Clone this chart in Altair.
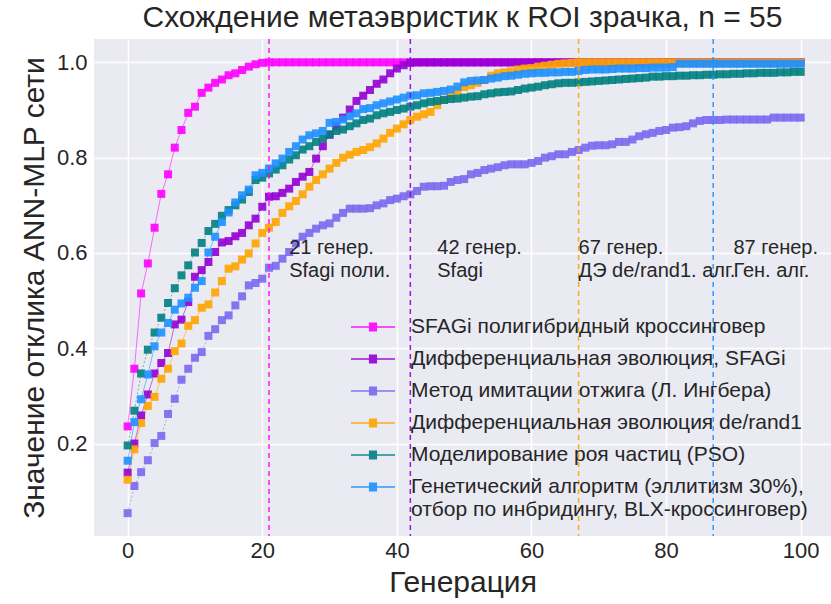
import altair as alt
import pandas as pd

generations = list(range(0, 101))

series_names = [
    "SFAGi полигибридный кроссинговер",
    "Дифференциальная эволюция, SFAGi",
    "Метод имитации отжига (Л. Ингбера)",
    "Дифференциальная эволюция de/rand1",
    "Моделирование роя частиц (PSO)",
    "Генетический алгоритм (эллитизм 30%),|отбор по инбридингу, BLX-кроссинговер)",
]
series_colors = ["#FF00FF", "#9400D3", "#7B68EE", "#FFA500", "#008080", "#1E90FF"]
dotted_series = [series_names[2], series_names[4]]

sfagi_poly = [
    0.236, 0.357, 0.515, 0.578, 0.653, 0.724, 0.765, 0.821, 0.858, 0.894,
    0.907, 0.936, 0.947, 0.957, 0.964, 0.973, 0.977, 0.984, 0.991, 0.996,
    0.999, 1.0, 1.0, 1.0, 1.0, 1.0, 1.0, 1.0, 1.0, 1.0,
    1.0, 1.0, 1.0, 1.0, 1.0, 1.0, 1.0, 1.0, 1.0, 1.0,
    1.0, 1.0, 1.0, 1.0, 1.0, 1.0, 1.0, 1.0, 1.0, 1.0,
    1.0, 1.0, 1.0, 1.0, 1.0, 1.0, 1.0, 1.0, 1.0, 1.0,
    1.0, 1.0, 1.0, 1.0, 1.0, 1.0, 1.0, 1.0, 1.0, 1.0,
    1.0, 1.0, 1.0, 1.0, 1.0, 1.0, 1.0, 1.0, 1.0, 1.0,
    1.0, 1.0, 1.0, 1.0, 1.0, 1.0, 1.0, 1.0, 1.0, 1.0,
    1.0, 1.0, 1.0, 1.0, 1.0, 1.0, 1.0, 1.0, 1.0, 1.0,
    1.0,
]
de_sfagi = [
    0.139, 0.200, 0.259, 0.303, 0.347, 0.369, 0.390, 0.450, 0.460, 0.497,
    0.550, 0.564, 0.581, 0.602, 0.622, 0.625, 0.635, 0.642, 0.658, 0.672,
    0.697, 0.718, 0.719, 0.726, 0.735, 0.749, 0.760, 0.770, 0.798, 0.824,
    0.848, 0.866, 0.884, 0.901, 0.919, 0.930, 0.942, 0.955, 0.964, 0.977,
    0.987, 0.994, 0.999, 1.0, 1.0, 1.0, 1.0, 1.0, 1.0, 1.0,
    1.0, 1.0, 1.0, 1.0, 1.0, 1.0, 1.0, 1.0, 1.0, 1.0,
    1.0, 1.0, 1.0, 1.0, 1.0, 1.0, 1.0, 1.0, 1.0, 1.0,
    1.0, 1.0, 1.0, 1.0, 1.0, 1.0, 1.0, 1.0, 1.0, 1.0,
    1.0, 1.0, 1.0, 1.0, 1.0, 1.0, 1.0, 1.0, 1.0, 1.0,
    1.0, 1.0, 1.0, 1.0, 1.0, 1.0, 1.0, 1.0, 1.0, 1.0,
    1.0,
]
annealing = [
    0.054, 0.111, 0.140, 0.165, 0.201, 0.216, 0.262, 0.294, 0.334, 0.357,
    0.380, 0.392, 0.426, 0.440, 0.459, 0.469, 0.490, 0.509, 0.532, 0.537,
    0.546, 0.569, 0.573, 0.588, 0.602, 0.620, 0.634, 0.642, 0.651, 0.658,
    0.662, 0.674, 0.684, 0.693, 0.693, 0.693, 0.694, 0.700, 0.704, 0.711,
    0.714, 0.719, 0.723, 0.730, 0.739, 0.740, 0.740, 0.741, 0.749, 0.753,
    0.755, 0.765, 0.768, 0.774, 0.777, 0.780, 0.784, 0.786, 0.786, 0.786,
    0.789, 0.793, 0.800, 0.803, 0.807, 0.807, 0.812, 0.816, 0.821, 0.825,
    0.826, 0.826, 0.828, 0.833, 0.833, 0.838, 0.845, 0.849, 0.852, 0.856,
    0.858, 0.863, 0.864, 0.866, 0.872, 0.877, 0.879, 0.879, 0.879, 0.880,
    0.880, 0.880, 0.880, 0.880, 0.880, 0.880, 0.884, 0.884, 0.884, 0.884,
    0.884,
]
de_rand1 = [
    0.124, 0.188, 0.243, 0.279, 0.298, 0.336, 0.357, 0.394, 0.410, 0.447,
    0.459, 0.485, 0.492, 0.517, 0.541, 0.567, 0.572, 0.586, 0.599, 0.620,
    0.642, 0.653, 0.665, 0.684, 0.698, 0.709, 0.723, 0.739, 0.753, 0.765,
    0.777, 0.789, 0.800, 0.806, 0.812, 0.816, 0.822, 0.830, 0.840, 0.852,
    0.861, 0.870, 0.879, 0.886, 0.891, 0.896, 0.910, 0.922, 0.930, 0.940,
    0.948, 0.952, 0.957, 0.963, 0.972, 0.977, 0.979, 0.981, 0.985, 0.987,
    0.988, 0.991, 0.993, 0.995, 0.997, 0.998, 0.999, 1.0, 1.0, 1.0,
    1.0, 1.0, 1.0, 1.0, 1.0, 1.0, 1.0, 1.0, 1.0, 1.0,
    1.0, 1.0, 1.0, 1.0, 1.0, 1.0, 1.0, 1.0, 1.0, 1.0,
    1.0, 1.0, 1.0, 1.0, 1.0, 1.0, 1.0, 1.0, 1.0, 1.0,
    1.0,
]
pso = [
    0.196, 0.269, 0.347, 0.397, 0.433, 0.464, 0.495, 0.526, 0.553, 0.574,
    0.601, 0.621, 0.646, 0.661, 0.678, 0.690, 0.700, 0.712, 0.728, 0.753,
    0.758, 0.767, 0.775, 0.784, 0.796, 0.805, 0.817, 0.824, 0.833, 0.840,
    0.849, 0.856, 0.859, 0.866, 0.872, 0.879, 0.882, 0.889, 0.893, 0.896,
    0.900, 0.903, 0.907, 0.910, 0.914, 0.917, 0.919, 0.921, 0.923, 0.924,
    0.926, 0.928, 0.929, 0.933, 0.935, 0.937, 0.938, 0.939, 0.942, 0.945,
    0.947, 0.949, 0.952, 0.954, 0.956, 0.957, 0.957, 0.958, 0.959, 0.960,
    0.961, 0.962, 0.963, 0.964, 0.965, 0.966, 0.967, 0.968, 0.970, 0.970,
    0.971, 0.971, 0.972, 0.972, 0.973, 0.973, 0.974, 0.974, 0.975, 0.975,
    0.976, 0.976, 0.977, 0.977, 0.978, 0.978, 0.978, 0.979, 0.979, 0.980,
    0.980,
]
genetic = [
    0.164, 0.245, 0.293, 0.345, 0.404, 0.433, 0.453, 0.481, 0.494, 0.506,
    0.527, 0.541, 0.601, 0.634, 0.665, 0.685, 0.706, 0.721, 0.733, 0.763,
    0.768, 0.777, 0.788, 0.798, 0.812, 0.824, 0.838, 0.847, 0.851, 0.856,
    0.873, 0.875, 0.880, 0.887, 0.893, 0.902, 0.904, 0.910, 0.914, 0.918,
    0.922, 0.926, 0.930, 0.931, 0.935, 0.936, 0.938, 0.940, 0.943, 0.949,
    0.958, 0.961, 0.962, 0.963, 0.966, 0.968, 0.971, 0.972, 0.974, 0.976,
    0.977, 0.978, 0.978, 0.979, 0.979, 0.980, 0.980, 0.982, 0.984, 0.985,
    0.985, 0.985, 0.986, 0.987, 0.987, 0.987, 0.988, 0.988, 0.989, 0.989,
    0.989, 0.990, 0.997, 0.997, 0.997, 0.997, 0.997, 0.997, 0.997, 0.997,
    0.997, 0.997, 0.997, 0.997, 0.997, 0.997, 0.997, 0.997, 0.997, 0.997,
    0.997,
]
all_series = [sfagi_poly, de_sfagi, annealing, de_rand1, pso, genetic]

marker_gens = [21, 42, 67, 87]
marker_colors = ["#FF00FF", "#9400D3", "#FFA500", "#1E90FF"]
note_x = [24, 46, 67, 90]
note_y = [0.611, 0.611, 0.611, 0.611]
note_texts = [
    "21 генер.\nSfagi поли.",
    "42 генер.\nSfagi",
    "67 генер.\nДЭ de/rand1. алг.",
    "87 генер.\nГен. алг.",
]

rows = []
for name, vals in zip(series_names, all_series):
    for g, v in zip(generations, vals):
        rows.append({"gen": g, "val": v, "series": name,
                     "dotted": name in dotted_series})
df = pd.DataFrame(rows)

rules_df = pd.DataFrame({"gen": marker_gens, "c": marker_colors})
notes_df = pd.DataFrame({"gen": note_x, "val": note_y, "t": note_texts})

FONT = "Liberation Sans"
TXT = "#262626"

xscale = alt.Scale(domain=[-5, 104.5], nice=False, zero=False)
yscale = alt.Scale(domain=[0.006, 1.049], nice=False, zero=False)

x_enc = alt.X("gen:Q", scale=xscale,
              axis=alt.Axis(values=[0, 20, 40, 60, 80, 100], title="Генерация",
                            labelPadding=4, titlePadding=6))
y_enc = alt.Y("val:Q", scale=yscale,
              axis=alt.Axis(values=[0.2, 0.4, 0.6, 0.8, 1.0], format=".1f",
                            title="Значение отклика ANN-MLP сети",
                            labelPadding=7, titlePadding=7))

# legend symbol: line with a filled square in the middle
sq = "".join(f"M-0.37,{-0.36 + 0.08 * i:.2f}H0.37" for i in range(10))
legend_symbol = "M-2,0H2" + sq

color_scale = alt.Scale(domain=series_names, range=series_colors)

base = alt.Chart(df)

solid_lines = base.transform_filter("!datum.dotted").mark_line(
    strokeWidth=1, opacity=0.55
).encode(
    x=x_enc,
    y=y_enc,
    color=alt.Color("series:N", scale=color_scale,
                    legend=alt.Legend(
                        title=None, orient="none", legendX=267, legendY=276,
                        symbolType=legend_symbol, symbolSize=484,
                        symbolStrokeWidth=1.3, symbolOpacity=0.9,
                        labelFontSize=21, labelFont=FONT, labelColor=TXT,
                        labelOffset=26, rowPadding=10, labelLimit=700,
                        labelExpr="split(datum.label, '|')", padding=0)),
)

dotted_lines = base.transform_filter("datum.dotted").mark_line(
    strokeWidth=1, opacity=0.55, strokeDash=[2, 2]
).encode(
    x=x_enc,
    y=y_enc,
    color=alt.Color("series:N", scale=color_scale, legend=None),
)

points = base.mark_point(shape="square", filled=True, size=64, opacity=0.9).encode(
    x=x_enc,
    y=y_enc,
    color=alt.Color("series:N", scale=color_scale, legend=None),
)

rules = alt.Chart(rules_df).mark_rule(strokeDash=[5, 4], strokeWidth=1.5, opacity=0.9).encode(
    x="gen:Q",
    color=alt.Color("c:N", scale=None),
)

notes = alt.Chart(notes_df).mark_text(
    align="left", baseline="middle", fontSize=20, font=FONT, color=TXT,
    lineBreak="\n", lineHeight=23
).encode(x="gen:Q", y="val:Q", text="t:N")

chart = alt.layer(solid_lines, dotted_lines, points, rules, notes).properties(
    width=737, height=497,
    background="white",
    autosize=alt.AutoSizeParams(type="none"),
    padding={"left": 94, "top": 39, "right": 0, "bottom": 68},
    title=alt.TitleParams(
        "Схождение метаэвристик к ROI зрачка, n = 55", fontSize=30, font=FONT,
        fontWeight="normal", color=TXT, anchor="middle", offset=5),
).configure_view(
    fill="#EAEAF2", stroke=None
).configure_axis(
    grid=True, gridColor="white", gridWidth=1.5, gridOpacity=1,
    domain=False, ticks=False,
    labelFont=FONT, labelFontSize=22, labelColor=TXT,
    titleFont=FONT, titleFontSize=30, titleColor=TXT, titleFontWeight="normal",
)

chart.save("out.html", embed_options={"renderer": "svg", "actions": False})
